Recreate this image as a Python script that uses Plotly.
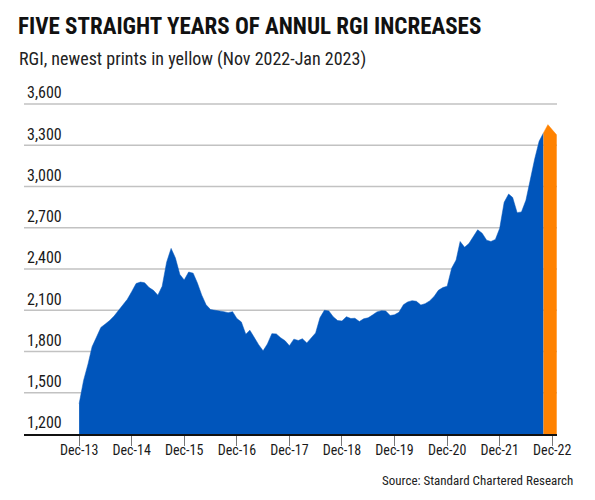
import plotly.graph_objects as go
import pandas as pd

# Monthly RGI values, Dec 2013 .. Oct 2022 (blue)
rgi_blue = [
    1420, 1590, 1710, 1835, 1905, 1975, 2000, 2025, 2058, 2100, 2140, 2180,
    2235, 2295, 2305, 2300, 2265, 2245, 2210, 2275, 2450, 2550, 2480, 2360,
    2320, 2378, 2370, 2300, 2210, 2140, 2105, 2098, 2095, 2090, 2082, 2090,
    2040, 2015, 1925, 1955, 1900, 1850, 1805, 1855, 1930, 1928, 1900, 1878,
    1842, 1890, 1880, 1893, 1862, 1896, 1935, 2045, 2100, 2095, 2053, 2025,
    2022, 2053, 2040, 2042, 2018, 2038, 2045, 2065, 2088, 2097, 2095, 2062,
    2067, 2085, 2140, 2160, 2170, 2165, 2138, 2148, 2168, 2200, 2245, 2265,
    2275, 2405, 2465, 2600, 2558, 2585, 2640, 2685, 2660, 2610, 2600, 2615,
    2696, 2885, 2945, 2920, 2810, 2815, 2900, 3050, 3200, 3330, 3390,
]
dates_blue = pd.date_range("2013-12-01", periods=len(rgi_blue), freq="MS")

# Newest prints (Oct 2022 .. Jan 2023)
rgi_new = [3390, 3450, 3412, 3375]
dates_new = pd.date_range("2022-10-01", periods=len(rgi_new), freq="MS")

tick_dates = pd.date_range("2013-12-01", "2022-12-01", freq="12MS")
tick_labels = ["Dec-13", "Dec-14", "Dec-15", "Dec-16", "Dec-17",
               "Dec-18", "Dec-19", "Dec-20", "Dec-21", "Dec-22"]
y_ticks = [1200, 1500, 1800, 2100, 2400, 2700, 3000, 3300, 3600]

BLUE = "#0055BB"
ORANGE = "#FF8200"
GRID = "#c2c2c2"
FONT = "Liberation Sans Narrow, Roboto Condensed, DejaVu Sans Condensed, Arial Narrow, sans-serif"

# the page body keeps its default 8px margin, so the figure is 8px smaller
OFF = 8
W, H = 595 - OFF, 500 - OFF
L, R, T, B = 16, 38, 62, 66
pw, ph = W - L - R, H - T - B
# 3,600 gridline sits at y=104px on screen; extend range above it for its label
y_top = 1200 + ph * 2400 / (434 - 104)

fig = go.Figure()
fig.add_trace(go.Scatter(x=dates_blue, y=rgi_blue, mode="lines", fill="tozeroy",
                         line=dict(color=BLUE, width=0.5), fillcolor=BLUE,
                         hoverinfo="x+y", showlegend=False))
fig.add_trace(go.Scatter(x=dates_new, y=rgi_new, mode="lines", fill="tozeroy",
                         line=dict(color=ORANGE, width=0.5), fillcolor=ORANGE,
                         hoverinfo="x+y", showlegend=False))

# horizontal gridlines at the y tick values, beneath the area fills
for v in y_ticks[1:]:
    fig.add_shape(type="line", xref="paper", yref="y", x0=0, x1=1, y0=v, y1=v,
                  line=dict(color=GRID, width=1.5), layer="below")


def px(xp):
    return (xp - OFF - L) / pw


def py(yp):
    return (H - B - (yp - OFF)) / ph


fig.update_layout(
    width=W, height=H,
    margin=dict(l=L, r=R, t=T, b=B),
    paper_bgcolor="white", plot_bgcolor="rgba(0,0,0,0)",
    xaxis=dict(
        range=["2012-11-13", "2023-01-03"],
        tickvals=tick_dates, ticktext=tick_labels,
        ticks="outside", ticklen=10, tickcolor="#777", tickwidth=1,
        ticklabelstandoff=-8,
        showgrid=False, showline=True, linecolor="#111", linewidth=1.5,
        tickfont=dict(family=FONT, size=14, color="#1a1a1a"),
        zeroline=False,
    ),
    yaxis=dict(
        range=[1200, y_top], tickvals=y_ticks,
        ticktext=[f"{v:,}" for v in y_ticks],
        ticklabelposition="inside top",
        showgrid=False,
        zeroline=False, showline=False,
        tickfont=dict(family=FONT, size=16, color="#1a1a1a"),
    ),
    annotations=[
        dict(text="<b>FIVE STRAIGHT YEARS OF ANNUL RGI INCREASES</b>",
             xref="paper", yref="paper", x=px(16), y=py(27),
             xanchor="left", yanchor="middle", showarrow=False,
             font=dict(family=FONT, size=23, color="#111")),
        dict(text="RGI, newest prints in yellow (Nov 2022-Jan 2023)",
             xref="paper", yref="paper", x=px(17), y=py(59),
             xanchor="left", yanchor="middle", showarrow=False,
             font=dict(family=FONT, size=18, color="#222")),
        dict(text="Source: Standard Chartered Research",
             xref="paper", yref="paper", x=px(575), y=py(480),
             xanchor="right", yanchor="middle", showarrow=False,
             font=dict(family=FONT, size=13, color="#222")),
    ],
)

fig.write_html("out.html", config={"displayModeBar": False})
